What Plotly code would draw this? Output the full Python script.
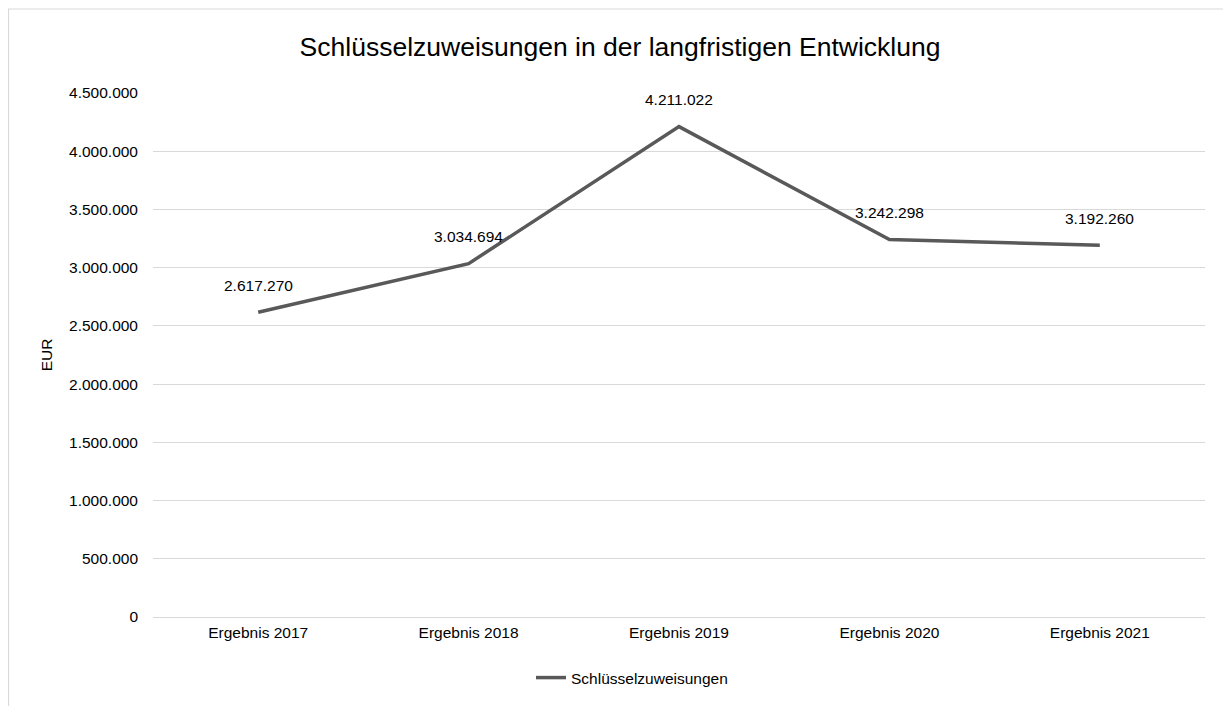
import plotly.graph_objects as go

categories = ["Ergebnis 2017", "Ergebnis 2018", "Ergebnis 2019", "Ergebnis 2020", "Ergebnis 2021"]
values = [2617270, 3034694, 4211022, 3242298, 3192260]
series_name = "Schlüsselzuweisungen"
title = "Schlüsselzuweisungen in der langfristigen Entwicklung"
y_title = "EUR"

def de_fmt(v):
    return f"{v:,}".replace(",", ".")

FONT = "Liberation Sans, Arial, sans-serif"
OFF = 8  # page body margin
W, H = 1231, 706
L, R, T, B = 153 - OFF, 26 + OFF, 93 - OFF, H + OFF - 617
pw, ph = W - L - R, H - T - B

fig = go.Figure()
fig.add_trace(go.Scatter(
    x=categories, y=values, mode="lines", name=series_name,
    line=dict(color="#595959", width=3.5), showlegend=True,
))
for c, v in zip(categories, values):
    fig.add_annotation(x=c, y=v, text=de_fmt(v), showarrow=False, yshift=27,
                       font=dict(family=FONT, size=15.5, color="#000000"))

fig.add_shape(type="rect", xref="paper", yref="paper",
              x0=(0.5 - L) / pw, x1=1.3, y0=-0.5, y1=(H - B - 1) / ph,
              line=dict(color="#d9d9d9", width=1.2), fillcolor="rgba(0,0,0,0)", layer="below")

fig.update_layout(
    width=W, height=H,
    margin=dict(l=L, r=R, t=T, b=B),
    paper_bgcolor="white", plot_bgcolor="white",
    separators=",.",
    font=dict(family=FONT, size=15.5, color="#000000"),
    title=dict(text=title, x=(620 - OFF - L) / pw, xanchor="center", xref="paper",
               y=1 - (47 - OFF) / H, yanchor="middle",
               font=dict(family=FONT, size=26.5, color="#000000")),
    xaxis=dict(type="category", range=[-0.5, 4.5], showgrid=False, showline=False, zeroline=False,
               ticks="", tickfont=dict(family=FONT, size=15.5), ticklabelstandoff=4,
               automargin=False),
    yaxis=dict(range=[0, 4500000], dtick=500000, tickformat=",d", showgrid=True,
               gridcolor="#d9d9d9", gridwidth=1.3, zeroline=True, zerolinecolor="#d9d9d9",
               zerolinewidth=1.3, showline=False, ticks="", automargin=False,
               ticklabelstandoff=14, tickfont=dict(family=FONT, size=15.5),
               title=dict(text=y_title, standoff=12, font=dict(family=FONT, size=15.5))),
    legend=dict(orientation="h", x=0.5 - 47 / pw, xanchor="center", y=-(678 - 617) / ph,
                yanchor="middle", font=dict(family=FONT, size=15.5)),
)
fig.write_html("out.html")
